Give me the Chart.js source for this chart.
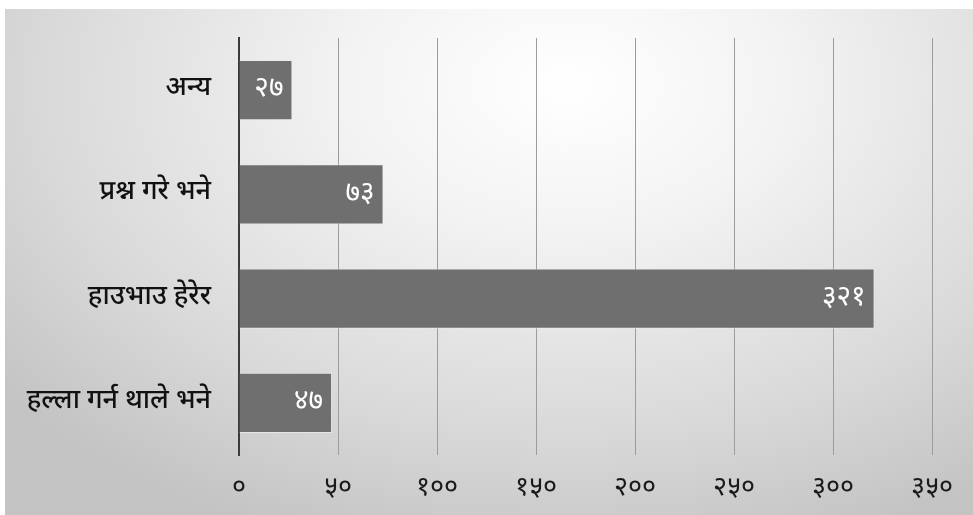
<!DOCTYPE html>
<html lang="ne">
<head>
<meta charset="UTF-8">
<title>हल्ला गर्न थाले भने</title>
<script src="https://cdn.jsdelivr.net/npm/chart.js"></script>
<style>
    html, body { margin: 0; padding: 0; background: #fff; }
    .wrap {
        position: absolute; left: 5px; top: 9px; width: 968px; height: 506px;
        background: radial-gradient(ellipse 75% 95% at 58% 15%, #ffffff 0%, #f3f3f3 30%, #d9d9d9 72%, #c4c4c4 100%);
    }
    canvas { position: absolute; left: 0; top: 0; }
</style>
</head>
<body>
<div class="wrap"></div>
<canvas id="chart" width="973" height="515"></canvas>
<script>
    // 데이터
    const categories = ['अन्य', 'प्रश्न गरे भने', 'हाउभाउ हेरेर', 'हल्ला गर्न थाले भने'];
    const values = [27, 73, 321, 47];
    const valueLabels = ['२७', '७३', '३२१', '४७'];
    const tickValues = [0, 50, 100, 150, 200, 250, 300, 350];
    const tickLabels = ['०', '५०', '१००', '१५०', '२००', '२५०', '३००', '३५०'];

    const devFont = '"Noto Sans Devanagari", "Lohit Devanagari", "Mangal", "Noto Sans", sans-serif';

    // 막대 끝에 값 표시
    const valuePlugin = {
        id: 'valuePlugin',
        afterDatasetsDraw(chart) {
            const c = chart.ctx;
            const meta = chart.getDatasetMeta(0);
            c.save();
            c.fillStyle = '#ffffff';
            c.font = '28px ' + devFont;
            c.textAlign = 'right';
            c.textBaseline = 'middle';
            meta.data.forEach((bar, i) => {
                c.fillText(valueLabels[i], bar.x - 9, bar.y + 1);
            });
            c.restore();
        }
    };

    new Chart(document.getElementById('chart'), {
        type: 'bar',
        data: {
            labels: categories,
            datasets: [{
                data: values,
                backgroundColor: '#6f6f6f',
                borderColor: 'rgba(235,235,235,0.8)',
                borderWidth: 1,
                borderSkipped: 'left',
                barPercentage: 0.58,
                categoryPercentage: 1.0
            }]
        },
        options: {
            indexAxis: 'y',
            responsive: false,
            animation: false,
            layout: { padding: { top: 38, right: 41, left: 0, bottom: 0 } },
            plugins: { legend: { display: false }, tooltip: { enabled: false } },
            scales: {
                x: {
                    min: 0,
                    max: 350,
                    afterBuildTicks(scale) {
                        scale.ticks = tickValues.map(v => ({ value: v }));
                    },
                    afterFit(scale) { scale.height = 60; },
                    grid: { color: '#9c9c9c', lineWidth: 1, drawTicks: false },
                    border: { display: false },
                    ticks: {
                        padding: 19,
                        color: '#1a1a1a',
                        font: { family: devFont, size: 27 },
                        callback: (v, i) => tickLabels[i]
                    }
                },
                y: {
                    afterFit(scale) { scale.width = 239; },
                    grid: { display: false },
                    border: { display: true, color: '#3a3a3a', width: 2 },
                    ticks: {
                        padding: 20,
                        color: '#111111',
                        font: { family: devFont, size: 27, weight: '500' }
                    }
                }
            }
        },
        plugins: [valuePlugin]
    });
</script>
</body>
</html>
